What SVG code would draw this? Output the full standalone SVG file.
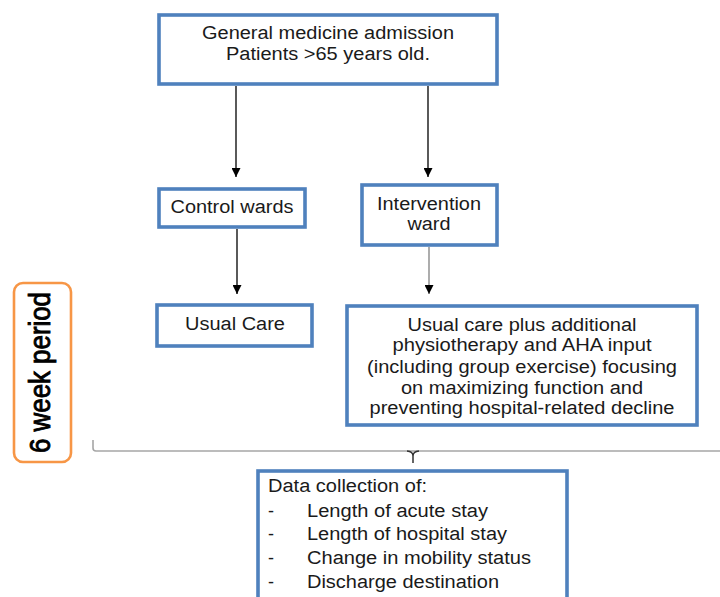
<svg xmlns="http://www.w3.org/2000/svg" width="720" height="597" viewBox="0 0 720 597">
<defs>
<style>
.box{fill:#fff;stroke:#4F81BD;stroke-width:3.6}
.t{font-family:"Liberation Sans",Arial,sans-serif;font-size:18px;fill:#1a1a1a}
.c{text-anchor:middle}
.ln{fill:none;stroke:#000;stroke-width:1.3}
.lg{fill:none;stroke:#808080;stroke-width:1.3}
</style>
<marker id="ah" markerUnits="userSpaceOnUse" markerWidth="9" markerHeight="9" refX="9" refY="4.5" orient="auto">
<path d="M0,0 L9,4.5 L0,9 z" fill="#000"/>
</marker>
</defs>
<rect width="720" height="597" fill="#fff"/>
<g id="connectors">
<line class="ln" x1="236" y1="86" x2="236" y2="177" marker-end="url(#ah)"/>
<line class="ln" x1="428" y1="86" x2="428" y2="177" marker-end="url(#ah)"/>
<line class="ln" x1="237" y1="229" x2="237" y2="294" marker-end="url(#ah)"/>
<line class="lg" x1="429" y1="247" x2="429" y2="294" marker-end="url(#ah)"/>
<path d="M93,440 L93,448 Q93,451 96,451 L720,451" fill="none" stroke="#a6a6a6" stroke-width="1.6"/>
<path d="M407,451 Q413,451.5 413,456 L413,463 M419,451 Q413,451.5 413,456" fill="none" stroke="#333" stroke-width="1.5"/>
</g>
<g id="admission">
<rect class="box" x="159" y="15" width="338" height="69"/>
<text class="t c" x="328" y="39" textLength="252" lengthAdjust="spacingAndGlyphs">General medicine admission</text>
<text class="t c" x="328" y="60" textLength="204" lengthAdjust="spacingAndGlyphs">Patients &gt;65 years old.</text>
</g>
<g id="control">
<rect class="box" x="159" y="189" width="146" height="38"/>
<text class="t c" x="232" y="213" textLength="123" lengthAdjust="spacingAndGlyphs">Control wards</text>
</g>
<g id="intervention">
<rect class="box" x="362" y="185" width="135" height="60"/>
<text class="t c" x="429" y="210" textLength="104" lengthAdjust="spacingAndGlyphs">Intervention</text>
<text class="t c" x="429" y="230" textLength="43" lengthAdjust="spacingAndGlyphs">ward</text>
</g>
<g id="usualcare">
<rect class="box" x="157" y="305" width="155" height="41"/>
<text class="t c" x="235" y="330" textLength="100" lengthAdjust="spacingAndGlyphs">Usual Care</text>
</g>
<g id="usualplus">
<rect class="box" x="347" y="306" width="350" height="119"/>
<text class="t c" x="522" y="331" textLength="229" lengthAdjust="spacingAndGlyphs">Usual care plus additional</text>
<text class="t c" x="522" y="351" textLength="259" lengthAdjust="spacingAndGlyphs">physiotherapy and AHA input</text>
<text class="t c" x="522" y="373" textLength="310" lengthAdjust="spacingAndGlyphs">(including group exercise) focusing</text>
<text class="t c" x="522" y="394" textLength="242" lengthAdjust="spacingAndGlyphs">on maximizing function and</text>
<text class="t c" x="522" y="414" textLength="305" lengthAdjust="spacingAndGlyphs">preventing hospital-related decline</text>
</g>
<g id="period">
<rect x="14" y="283" width="57" height="179" rx="9" fill="#fff" stroke="#F79646" stroke-width="2.6"/>
<text transform="translate(50,372.5) rotate(-90) scale(1,1.1)" font-family="'Liberation Sans',Arial,sans-serif" font-size="26" fill="#000" stroke="#000" stroke-width="0.8" text-anchor="middle" textLength="161" lengthAdjust="spacingAndGlyphs">6 week period</text>
</g>
<g id="datacollection">
<rect class="box" x="258" y="471" width="309" height="140"/>
<text class="t" x="268" y="492" textLength="159" lengthAdjust="spacingAndGlyphs">Data collection of:</text>
<text class="t" x="268" y="517">-</text>
<text class="t" x="307" y="517" textLength="181" lengthAdjust="spacingAndGlyphs">Length of acute stay</text>
<text class="t" x="268" y="540">-</text>
<text class="t" x="307" y="540" textLength="200" lengthAdjust="spacingAndGlyphs">Length of hospital stay</text>
<text class="t" x="268" y="564">-</text>
<text class="t" x="307" y="564" textLength="224" lengthAdjust="spacingAndGlyphs">Change in mobility status</text>
<text class="t" x="268" y="588">-</text>
<text class="t" x="307" y="588" textLength="192" lengthAdjust="spacingAndGlyphs">Discharge destination</text>
</g>
</svg>
